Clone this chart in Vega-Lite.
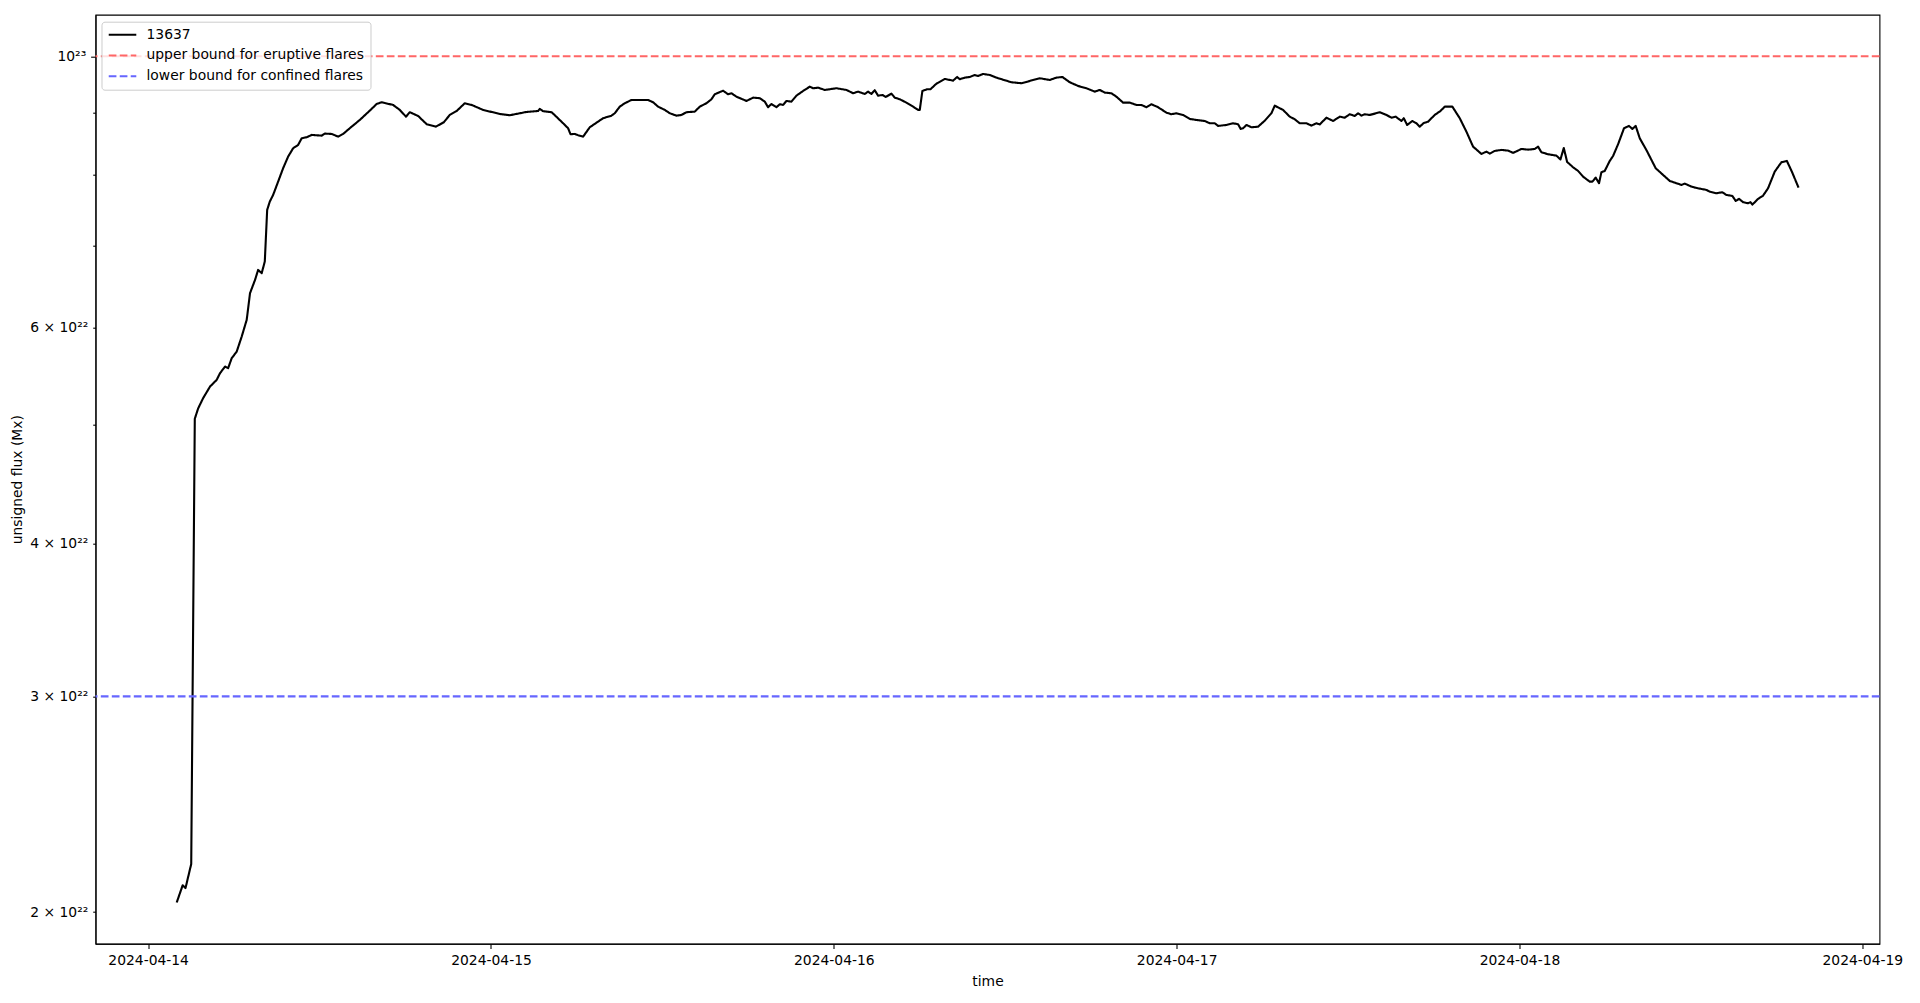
{
"$schema": "https://vega.github.io/schema/vega-lite/v6.json",
"width": 1784, "height": 929,
"autosize": {"type": "none"},
"padding": {"left": 95.5, "top": 14.7, "right": 40, "bottom": 59},
"background": "white",
"config": {
 "view": {"stroke": "black", "strokeWidth": 1.1},
 "font": "DejaVu Sans",
 "axis": {"labelFont": "DejaVu Sans", "labelFontSize": 13.9, "labelColor": "black", "titleFont": "DejaVu Sans", "titleFontSize": 13.9, "titleFontWeight": "normal", "titleColor": "black", "tickColor": "black", "tickWidth": 1.1, "domainColor": "black", "domainWidth": 1.1, "grid": false, "labelOverlap": false, "labelFlush": false},
 "legend": {"fillColor": "rgba(255,255,255,0.8)", "strokeColor": "#cccccc", "cornerRadius": 3, "padding": 6, "symbolType": "stroke", "symbolSize": 760, "symbolStrokeWidth": 2.1, "labelFont": "DejaVu Sans", "labelFontSize": 13.9, "labelColor": "black", "labelOffset": 9, "rowPadding": 6.8, "clipHeight": 14, "labelLimit": 400}
},
"datasets": {
 "bounds": [{"v": 1e23, "s": "upper bound for eruptive flares"}, {"v": 3e22, "s": "lower bound for confined flares"}],
 "flux": [
{"t":"2024-04-14T02:00","v":2.036e22,"s":"13637"},
{"t":"2024-04-14T02:25","v":2.103e22,"s":"13637"},
{"t":"2024-04-14T02:37","v":2.092e22,"s":"13637"},
{"t":"2024-04-14T03:01","v":2.189e22,"s":"13637"},
{"t":"2024-04-14T03:16","v":5.057e22,"s":"13637"},
{"t":"2024-04-14T03:30","v":5.156e22,"s":"13637"},
{"t":"2024-04-14T03:51","v":5.257e22,"s":"13637"},
{"t":"2024-04-14T04:20","v":5.373e22,"s":"13637"},
{"t":"2024-04-14T04:48","v":5.441e22,"s":"13637"},
{"t":"2024-04-14T05:02","v":5.510e22,"s":"13637"},
{"t":"2024-04-14T05:23","v":5.579e22,"s":"13637"},
{"t":"2024-04-14T05:36","v":5.562e22,"s":"13637"},
{"t":"2024-04-14T05:51","v":5.667e22,"s":"13637"},
{"t":"2024-04-14T06:12","v":5.738e22,"s":"13637"},
{"t":"2024-04-14T06:33","v":5.902e22,"s":"13637"},
{"t":"2024-04-14T06:54","v":6.091e22,"s":"13637"},
{"t":"2024-04-14T07:08","v":6.405e22,"s":"13637"},
{"t":"2024-04-14T07:29","v":6.566e22,"s":"13637"},
{"t":"2024-04-14T07:42","v":6.691e22,"s":"13637"},
{"t":"2024-04-14T07:57","v":6.650e22,"s":"13637"},
{"t":"2024-04-14T08:10","v":6.797e22,"s":"13637"},
{"t":"2024-04-14T08:20","v":7.490e22,"s":"13637"},
{"t":"2024-04-14T08:31","v":7.608e22,"s":"13637"},
{"t":"2024-04-14T08:45","v":7.704e22,"s":"13637"},
{"t":"2024-04-14T09:06","v":7.899e22,"s":"13637"},
{"t":"2024-04-14T09:27","v":8.101e22,"s":"13637"},
{"t":"2024-04-14T09:48","v":8.280e22,"s":"13637"},
{"t":"2024-04-14T10:09","v":8.411e22,"s":"13637"},
{"t":"2024-04-14T10:30","v":8.464e22,"s":"13637"},
{"t":"2024-04-14T10:45","v":8.571e22,"s":"13637"},
{"t":"2024-04-14T11:06","v":8.587e22,"s":"13637"},
{"t":"2024-04-14T11:27","v":8.625e22,"s":"13637"},
{"t":"2024-04-14T12:09","v":8.613e22,"s":"13637"},
{"t":"2024-04-14T12:22","v":8.646e22,"s":"13637"},
{"t":"2024-04-14T12:51","v":8.641e22,"s":"13637"},
{"t":"2024-04-14T13:18","v":8.597e22,"s":"13637"},
{"t":"2024-04-14T13:39","v":8.641e22,"s":"13637"},
{"t":"2024-04-14T14:07","v":8.734e22,"s":"13637"},
{"t":"2024-04-14T14:49","v":8.871e22,"s":"13637"},
{"t":"2024-04-14T15:31","v":9.028e22,"s":"13637"},
{"t":"2024-04-14T16:00","v":9.142e22,"s":"13637"},
{"t":"2024-04-14T16:21","v":9.171e22,"s":"13637"},
{"t":"2024-04-14T17:09","v":9.125e22,"s":"13637"},
{"t":"2024-04-14T17:37","v":9.040e22,"s":"13637"},
{"t":"2024-04-14T18:03","v":8.926e22,"s":"13637"},
{"t":"2024-04-14T18:19","v":9.001e22,"s":"13637"},
{"t":"2024-04-14T18:54","v":8.938e22,"s":"13637"},
{"t":"2024-04-14T19:30","v":8.800e22,"s":"13637"},
{"t":"2024-04-14T20:09","v":8.760e22,"s":"13637"},
{"t":"2024-04-14T20:42","v":8.833e22,"s":"13637"},
{"t":"2024-04-14T21:07","v":8.955e22,"s":"13637"},
{"t":"2024-04-14T21:36","v":9.022e22,"s":"13637"},
{"t":"2024-04-14T22:10","v":9.154e22,"s":"13637"},
{"t":"2024-04-14T22:39","v":9.125e22,"s":"13637"},
{"t":"2024-04-14T23:27","v":9.040e22,"s":"13637"},
{"t":"2024-04-15T00:37","v":8.972e22,"s":"13637"},
{"t":"2024-04-15T01:19","v":8.950e22,"s":"13637"},
{"t":"2024-04-15T02:30","v":9.006e22,"s":"13637"},
{"t":"2024-04-15T03:18","v":9.022e22,"s":"13637"},
{"t":"2024-04-15T03:25","v":9.057e22,"s":"13637"},
{"t":"2024-04-15T03:39","v":9.018e22,"s":"13637"},
{"t":"2024-04-15T04:15","v":9.001e22,"s":"13637"},
{"t":"2024-04-15T05:03","v":8.816e22,"s":"13637"},
{"t":"2024-04-15T05:24","v":8.734e22,"s":"13637"},
{"t":"2024-04-15T05:34","v":8.636e22,"s":"13637"},
{"t":"2024-04-15T05:52","v":8.641e22,"s":"13637"},
{"t":"2024-04-15T06:06","v":8.620e22,"s":"13637"},
{"t":"2024-04-15T06:27","v":8.597e22,"s":"13637"},
{"t":"2024-04-15T06:55","v":8.750e22,"s":"13637"},
{"t":"2024-04-15T07:51","v":8.900e22,"s":"13637"},
{"t":"2024-04-15T08:26","v":8.943e22,"s":"13637"},
{"t":"2024-04-15T08:40","v":8.984e22,"s":"13637"},
{"t":"2024-04-15T09:01","v":9.096e22,"s":"13637"},
{"t":"2024-04-15T09:22","v":9.154e22,"s":"13637"},
{"t":"2024-04-15T09:50","v":9.211e22,"s":"13637"},
{"t":"2024-04-15T10:32","v":9.211e22,"s":"13637"},
{"t":"2024-04-15T11:00","v":9.211e22,"s":"13637"},
{"t":"2024-04-15T11:21","v":9.171e22,"s":"13637"},
{"t":"2024-04-15T11:42","v":9.096e22,"s":"13637"},
{"t":"2024-04-15T12:10","v":9.040e22,"s":"13637"},
{"t":"2024-04-15T12:31","v":8.984e22,"s":"13637"},
{"t":"2024-04-15T12:59","v":8.943e22,"s":"13637"},
{"t":"2024-04-15T13:20","v":8.955e22,"s":"13637"},
{"t":"2024-04-15T13:41","v":9.001e22,"s":"13637"},
{"t":"2024-04-15T14:16","v":9.011e22,"s":"13637"},
{"t":"2024-04-15T14:37","v":9.096e22,"s":"13637"},
{"t":"2024-04-15T15:05","v":9.154e22,"s":"13637"},
{"t":"2024-04-15T15:26","v":9.223e22,"s":"13637"},
{"t":"2024-04-15T15:40","v":9.310e22,"s":"13637"},
{"t":"2024-04-15T16:15","v":9.373e22,"s":"13637"},
{"t":"2024-04-15T16:36","v":9.310e22,"s":"13637"},
{"t":"2024-04-15T16:50","v":9.328e22,"s":"13637"},
{"t":"2024-04-15T17:11","v":9.268e22,"s":"13637"},
{"t":"2024-04-15T17:53","v":9.194e22,"s":"13637"},
{"t":"2024-04-15T18:21","v":9.251e22,"s":"13637"},
{"t":"2024-04-15T18:49","v":9.241e22,"s":"13637"},
{"t":"2024-04-15T19:10","v":9.182e22,"s":"13637"},
{"t":"2024-04-15T19:24","v":9.086e22,"s":"13637"},
{"t":"2024-04-15T19:38","v":9.142e22,"s":"13637"},
{"t":"2024-04-15T19:59","v":9.086e22,"s":"13637"},
{"t":"2024-04-15T20:13","v":9.137e22,"s":"13637"},
{"t":"2024-04-15T20:27","v":9.125e22,"s":"13637"},
{"t":"2024-04-15T20:41","v":9.194e22,"s":"13637"},
{"t":"2024-04-15T21:02","v":9.182e22,"s":"13637"},
{"t":"2024-04-15T21:23","v":9.286e22,"s":"13637"},
{"t":"2024-04-15T21:51","v":9.368e22,"s":"13637"},
{"t":"2024-04-15T22:19","v":9.444e22,"s":"13637"},
{"t":"2024-04-15T22:33","v":9.416e22,"s":"13637"},
{"t":"2024-04-15T22:54","v":9.427e22,"s":"13637"},
{"t":"2024-04-15T23:22","v":9.386e22,"s":"13637"},
{"t":"2024-04-16T00:11","v":9.416e22,"s":"13637"},
{"t":"2024-04-16T00:53","v":9.386e22,"s":"13637"},
{"t":"2024-04-16T01:21","v":9.328e22,"s":"13637"},
{"t":"2024-04-16T01:42","v":9.356e22,"s":"13637"},
{"t":"2024-04-16T02:10","v":9.316e22,"s":"13637"},
{"t":"2024-04-16T02:24","v":9.356e22,"s":"13637"},
{"t":"2024-04-16T02:38","v":9.316e22,"s":"13637"},
{"t":"2024-04-16T02:52","v":9.381e22,"s":"13637"},
{"t":"2024-04-16T03:06","v":9.286e22,"s":"13637"},
{"t":"2024-04-16T03:25","v":9.298e22,"s":"13637"},
{"t":"2024-04-16T03:38","v":9.263e22,"s":"13637"},
{"t":"2024-04-16T04:02","v":9.321e22,"s":"13637"},
{"t":"2024-04-16T04:16","v":9.251e22,"s":"13637"},
{"t":"2024-04-16T04:37","v":9.223e22,"s":"13637"},
{"t":"2024-04-16T05:05","v":9.165e22,"s":"13637"},
{"t":"2024-04-16T05:33","v":9.096e22,"s":"13637"},
{"t":"2024-04-16T05:54","v":9.040e22,"s":"13637"},
{"t":"2024-04-16T06:01","v":9.040e22,"s":"13637"},
{"t":"2024-04-16T06:12","v":9.368e22,"s":"13637"},
{"t":"2024-04-16T06:32","v":9.398e22,"s":"13637"},
{"t":"2024-04-16T06:46","v":9.398e22,"s":"13637"},
{"t":"2024-04-16T07:11","v":9.498e22,"s":"13637"},
{"t":"2024-04-16T07:46","v":9.582e22,"s":"13637"},
{"t":"2024-04-16T08:21","v":9.552e22,"s":"13637"},
{"t":"2024-04-16T08:38","v":9.618e22,"s":"13637"},
{"t":"2024-04-16T08:49","v":9.577e22,"s":"13637"},
{"t":"2024-04-16T09:10","v":9.606e22,"s":"13637"},
{"t":"2024-04-16T09:31","v":9.618e22,"s":"13637"},
{"t":"2024-04-16T09:52","v":9.654e22,"s":"13637"},
{"t":"2024-04-16T10:06","v":9.636e22,"s":"13637"},
{"t":"2024-04-16T10:27","v":9.673e22,"s":"13637"},
{"t":"2024-04-16T10:55","v":9.654e22,"s":"13637"},
{"t":"2024-04-16T11:23","v":9.606e22,"s":"13637"},
{"t":"2024-04-16T11:58","v":9.559e22,"s":"13637"},
{"t":"2024-04-16T12:26","v":9.523e22,"s":"13637"},
{"t":"2024-04-16T13:08","v":9.505e22,"s":"13637"},
{"t":"2024-04-16T13:43","v":9.546e22,"s":"13637"},
{"t":"2024-04-16T14:25","v":9.595e22,"s":"13637"},
{"t":"2024-04-16T15:07","v":9.564e22,"s":"13637"},
{"t":"2024-04-16T15:35","v":9.606e22,"s":"13637"},
{"t":"2024-04-16T16:00","v":9.618e22,"s":"13637"},
{"t":"2024-04-16T16:31","v":9.523e22,"s":"13637"},
{"t":"2024-04-16T17:06","v":9.457e22,"s":"13637"},
{"t":"2024-04-16T17:41","v":9.416e22,"s":"13637"},
{"t":"2024-04-16T18:16","v":9.356e22,"s":"13637"},
{"t":"2024-04-16T18:37","v":9.386e22,"s":"13637"},
{"t":"2024-04-16T18:58","v":9.339e22,"s":"13637"},
{"t":"2024-04-16T19:26","v":9.328e22,"s":"13637"},
{"t":"2024-04-16T19:47","v":9.268e22,"s":"13637"},
{"t":"2024-04-16T20:15","v":9.165e22,"s":"13637"},
{"t":"2024-04-16T20:43","v":9.165e22,"s":"13637"},
{"t":"2024-04-16T21:11","v":9.125e22,"s":"13637"},
{"t":"2024-04-16T21:32","v":9.125e22,"s":"13637"},
{"t":"2024-04-16T21:53","v":9.086e22,"s":"13637"},
{"t":"2024-04-16T22:14","v":9.137e22,"s":"13637"},
{"t":"2024-04-16T22:42","v":9.086e22,"s":"13637"},
{"t":"2024-04-16T23:17","v":8.994e22,"s":"13637"},
{"t":"2024-04-16T23:38","v":8.967e22,"s":"13637"},
{"t":"2024-04-16T23:59","v":8.984e22,"s":"13637"},
{"t":"2024-04-17T00:27","v":8.955e22,"s":"13637"},
{"t":"2024-04-17T00:55","v":8.888e22,"s":"13637"},
{"t":"2024-04-17T01:23","v":8.871e22,"s":"13637"},
{"t":"2024-04-17T01:58","v":8.854e22,"s":"13637"},
{"t":"2024-04-17T02:19","v":8.816e22,"s":"13637"},
{"t":"2024-04-17T02:40","v":8.816e22,"s":"13637"},
{"t":"2024-04-17T02:54","v":8.772e22,"s":"13637"},
{"t":"2024-04-17T03:29","v":8.788e22,"s":"13637"},
{"t":"2024-04-17T03:57","v":8.816e22,"s":"13637"},
{"t":"2024-04-17T04:18","v":8.800e22,"s":"13637"},
{"t":"2024-04-17T04:29","v":8.722e22,"s":"13637"},
{"t":"2024-04-17T04:39","v":8.734e22,"s":"13637"},
{"t":"2024-04-17T04:53","v":8.788e22,"s":"13637"},
{"t":"2024-04-17T05:14","v":8.750e22,"s":"13637"},
{"t":"2024-04-17T05:42","v":8.760e22,"s":"13637"},
{"t":"2024-04-17T06:10","v":8.859e22,"s":"13637"},
{"t":"2024-04-17T06:38","v":8.984e22,"s":"13637"},
{"t":"2024-04-17T06:52","v":9.113e22,"s":"13637"},
{"t":"2024-04-17T07:13","v":9.068e22,"s":"13637"},
{"t":"2024-04-17T07:27","v":9.040e22,"s":"13637"},
{"t":"2024-04-17T07:55","v":8.926e22,"s":"13637"},
{"t":"2024-04-17T08:16","v":8.883e22,"s":"13637"},
{"t":"2024-04-17T08:37","v":8.816e22,"s":"13637"},
{"t":"2024-04-17T09:05","v":8.816e22,"s":"13637"},
{"t":"2024-04-17T09:26","v":8.777e22,"s":"13637"},
{"t":"2024-04-17T09:47","v":8.816e22,"s":"13637"},
{"t":"2024-04-17T10:01","v":8.797e22,"s":"13637"},
{"t":"2024-04-17T10:29","v":8.909e22,"s":"13637"},
{"t":"2024-04-17T10:57","v":8.854e22,"s":"13637"},
{"t":"2024-04-17T11:25","v":8.926e22,"s":"13637"},
{"t":"2024-04-17T11:46","v":8.909e22,"s":"13637"},
{"t":"2024-04-17T12:07","v":8.967e22,"s":"13637"},
{"t":"2024-04-17T12:28","v":8.938e22,"s":"13637"},
{"t":"2024-04-17T12:42","v":8.984e22,"s":"13637"},
{"t":"2024-04-17T12:56","v":8.943e22,"s":"13637"},
{"t":"2024-04-17T13:10","v":8.967e22,"s":"13637"},
{"t":"2024-04-17T13:31","v":8.955e22,"s":"13637"},
{"t":"2024-04-17T13:52","v":8.977e22,"s":"13637"},
{"t":"2024-04-17T14:13","v":9.001e22,"s":"13637"},
{"t":"2024-04-17T14:41","v":8.955e22,"s":"13637"},
{"t":"2024-04-17T15:02","v":8.909e22,"s":"13637"},
{"t":"2024-04-17T15:20","v":8.926e22,"s":"13637"},
{"t":"2024-04-17T15:44","v":8.854e22,"s":"13637"},
{"t":"2024-04-17T15:54","v":8.900e22,"s":"13637"},
{"t":"2024-04-17T16:08","v":8.788e22,"s":"13637"},
{"t":"2024-04-17T16:30","v":8.854e22,"s":"13637"},
{"t":"2024-04-17T16:47","v":8.816e22,"s":"13637"},
{"t":"2024-04-17T17:01","v":8.760e22,"s":"13637"},
{"t":"2024-04-17T17:18","v":8.821e22,"s":"13637"},
{"t":"2024-04-17T17:36","v":8.843e22,"s":"13637"},
{"t":"2024-04-17T18:04","v":8.955e22,"s":"13637"},
{"t":"2024-04-17T18:28","v":9.022e22,"s":"13637"},
{"t":"2024-04-17T18:46","v":9.096e22,"s":"13637"},
{"t":"2024-04-17T19:18","v":9.096e22,"s":"13637"},
{"t":"2024-04-17T19:49","v":8.900e22,"s":"13637"},
{"t":"2024-04-17T20:17","v":8.678e22,"s":"13637"},
{"t":"2024-04-17T20:45","v":8.437e22,"s":"13637"},
{"t":"2024-04-17T21:20","v":8.322e22,"s":"13637"},
{"t":"2024-04-17T21:41","v":8.358e22,"s":"13637"},
{"t":"2024-04-17T21:55","v":8.327e22,"s":"13637"},
{"t":"2024-04-17T22:16","v":8.369e22,"s":"13637"},
{"t":"2024-04-17T22:44","v":8.385e22,"s":"13637"},
{"t":"2024-04-17T23:12","v":8.374e22,"s":"13637"},
{"t":"2024-04-17T23:33","v":8.338e22,"s":"13637"},
{"t":"2024-04-18T00:08","v":8.400e22,"s":"13637"},
{"t":"2024-04-18T00:36","v":8.389e22,"s":"13637"},
{"t":"2024-04-18T01:04","v":8.400e22,"s":"13637"},
{"t":"2024-04-18T01:18","v":8.437e22,"s":"13637"},
{"t":"2024-04-18T01:32","v":8.348e22,"s":"13637"},
{"t":"2024-04-18T02:00","v":8.317e22,"s":"13637"},
{"t":"2024-04-18T02:35","v":8.295e22,"s":"13637"},
{"t":"2024-04-18T02:52","v":8.236e22,"s":"13637"},
{"t":"2024-04-18T03:06","v":8.416e22,"s":"13637"},
{"t":"2024-04-18T03:20","v":8.198e22,"s":"13637"},
{"t":"2024-04-18T03:45","v":8.116e22,"s":"13637"},
{"t":"2024-04-18T04:06","v":8.060e22,"s":"13637"},
{"t":"2024-04-18T04:27","v":7.974e22,"s":"13637"},
{"t":"2024-04-18T04:55","v":7.899e22,"s":"13637"},
{"t":"2024-04-18T05:06","v":7.899e22,"s":"13637"},
{"t":"2024-04-18T05:20","v":7.959e22,"s":"13637"},
{"t":"2024-04-18T05:34","v":7.876e22,"s":"13637"},
{"t":"2024-04-18T05:44","v":8.040e22,"s":"13637"},
{"t":"2024-04-18T05:58","v":8.060e22,"s":"13637"},
{"t":"2024-04-18T06:19","v":8.213e22,"s":"13637"},
{"t":"2024-04-18T06:33","v":8.290e22,"s":"13637"},
{"t":"2024-04-18T06:54","v":8.475e22,"s":"13637"},
{"t":"2024-04-18T07:19","v":8.734e22,"s":"13637"},
{"t":"2024-04-18T07:40","v":8.772e22,"s":"13637"},
{"t":"2024-04-18T07:54","v":8.722e22,"s":"13637"},
{"t":"2024-04-18T08:08","v":8.772e22,"s":"13637"},
{"t":"2024-04-18T08:25","v":8.571e22,"s":"13637"},
{"t":"2024-04-18T08:55","v":8.369e22,"s":"13637"},
{"t":"2024-04-18T09:32","v":8.101e22,"s":"13637"},
{"t":"2024-04-18T10:03","v":8.000e22,"s":"13637"},
{"t":"2024-04-18T10:31","v":7.910e22,"s":"13637"},
{"t":"2024-04-18T10:59","v":7.876e22,"s":"13637"},
{"t":"2024-04-18T11:20","v":7.851e22,"s":"13637"},
{"t":"2024-04-18T11:34","v":7.870e22,"s":"13637"},
{"t":"2024-04-18T12:02","v":7.826e22,"s":"13637"},
{"t":"2024-04-18T12:16","v":7.811e22,"s":"13637"},
{"t":"2024-04-18T12:44","v":7.792e22,"s":"13637"},
{"t":"2024-04-18T13:05","v":7.777e22,"s":"13637"},
{"t":"2024-04-18T13:19","v":7.752e22,"s":"13637"},
{"t":"2024-04-18T13:47","v":7.729e22,"s":"13637"},
{"t":"2024-04-18T14:12","v":7.743e22,"s":"13637"},
{"t":"2024-04-18T14:29","v":7.704e22,"s":"13637"},
{"t":"2024-04-18T14:54","v":7.690e22,"s":"13637"},
{"t":"2024-04-18T15:08","v":7.618e22,"s":"13637"},
{"t":"2024-04-18T15:22","v":7.647e22,"s":"13637"},
{"t":"2024-04-18T15:39","v":7.600e22,"s":"13637"},
{"t":"2024-04-18T16:00","v":7.585e22,"s":"13637"},
{"t":"2024-04-18T16:10","v":7.600e22,"s":"13637"},
{"t":"2024-04-18T16:18","v":7.565e22,"s":"13637"},
{"t":"2024-04-18T16:42","v":7.647e22,"s":"13637"},
{"t":"2024-04-18T17:03","v":7.694e22,"s":"13637"},
{"t":"2024-04-18T17:24","v":7.802e22,"s":"13637"},
{"t":"2024-04-18T17:52","v":8.049e22,"s":"13637"},
{"t":"2024-04-18T18:20","v":8.193e22,"s":"13637"},
{"t":"2024-04-18T18:43","v":8.213e22,"s":"13637"},
{"t":"2024-04-18T19:04","v":8.049e22,"s":"13637"},
{"t":"2024-04-18T19:32","v":7.811e22,"s":"13637"}
 ]
},
"layer": [
 {
  "data": {"name": "flux"},
  "mark": {"type": "line", "strokeWidth": 2.1, "strokeJoin": "round"},
  "encoding": {
   "x": {"field": "t", "type": "temporal",
    "scale": {"domain": [{"year": 2024, "month": 4, "date": 13, "hours": 20, "minutes": 19}, {"year": 2024, "month": 4, "date": 19, "hours": 1, "minutes": 12}]},
    "axis": {"title": "time", "format": "%Y-%m-%d",
     "values": [{"year": 2024, "month": 4, "date": 14}, {"year": 2024, "month": 4, "date": 15}, {"year": 2024, "month": 4, "date": 16}, {"year": 2024, "month": 4, "date": 17}, {"year": 2024, "month": 4, "date": 18}, {"year": 2024, "month": 4, "date": 19}],
     "tickSize": 4.9, "labelPadding": 4.9, "titlePadding": 7}},
   "y": {"field": "v", "type": "quantitative",
    "scale": {"type": "log", "domain": [1.8843e22, 1.0813e23], "nice": false, "zero": false},
    "axis": {"title": "unsigned flux (Mx)",
     "values": [2e22, 3e22, 4e22, 5e22, 6e22, 7e22, 8e22, 9e22, 1e23],
     "labelExpr": "datum.value < 2.5e22 ? '2 × 10²²' : datum.value < 3.5e22 ? '3 × 10²²' : datum.value < 4.5e22 ? '4 × 10²²' : (datum.value > 5.5e22 && datum.value < 6.5e22) ? '6 × 10²²' : datum.value > 9.5e22 ? '10²³' : ''",
     "tickSize": {"condition": {"test": "datum.value > 9.5e22", "value": 4.9}, "value": 2.8},
     "labelPadding": 4.9, "titlePadding": 5}},
   "color": {"field": "s", "type": "nominal",
    "scale": {"domain": ["13637", "upper bound for eruptive flares", "lower bound for confined flares"], "range": ["#000000", "#ff6666", "#6666ff"]},
    "legend": {"title": null, "orient": "none", "legendX": 6, "legendY": 7}},
   "strokeDash": {"field": "s", "type": "nominal",
    "scale": {"domain": ["13637", "upper bound for eruptive flares", "lower bound for confined flares"], "range": [[1, 0], [7.7, 3.3], [7.7, 3.3]]},
    "legend": {"title": null, "orient": "none", "legendX": 6, "legendY": 7}}
  }
 },
 {
  "data": {"name": "bounds"},
  "mark": {"type": "rule", "strokeWidth": 2.1},
  "encoding": {
   "y": {"field": "v", "type": "quantitative"},
   "color": {"field": "s", "type": "nominal"},
   "strokeDash": {"field": "s", "type": "nominal"}
  }
 }
]
}
